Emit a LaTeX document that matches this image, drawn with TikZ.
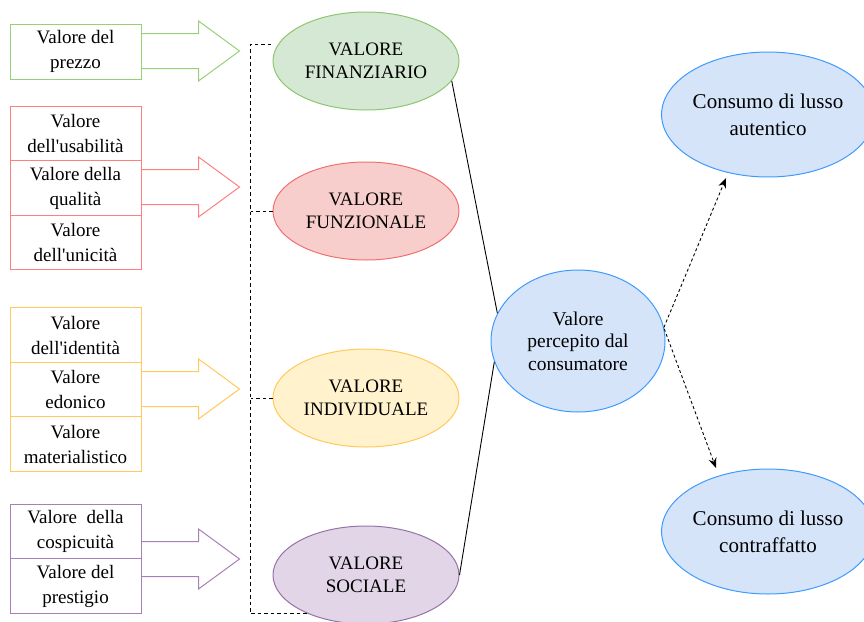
\documentclass[tikz,border=0pt]{standalone}
\usepackage{fontspec}
\setmainfont{Liberation Serif}
\usetikzlibrary{shapes.geometric,arrows.meta}

\definecolor{gfill}{HTML}{D5E8D4}\definecolor{gline}{HTML}{97D077}\definecolor{gedge}{HTML}{8CC66E}
\definecolor{rfill}{HTML}{F8CECC}\definecolor{rline}{HTML}{FF7F7F}\definecolor{redge}{HTML}{F07070}
\definecolor{yfill}{HTML}{FFF2CC}\definecolor{yline}{HTML}{FFC95C}\definecolor{yedge}{HTML}{FFC95C}
\definecolor{pfill}{HTML}{E1D5E7}\definecolor{pline}{HTML}{A680B8}\definecolor{pedge}{HTML}{9673A6}
\definecolor{bfill}{HTML}{D6E4FA}\definecolor{bedge}{HTML}{3D9BFF}

\newcommand{\apo}{\textquotesingle}

\tikzset{
  x=1pt, y=-1pt,
  cell/.style={draw, line width=1pt, fill=white, minimum width=131pt, minimum height=#1,
    inner sep=0pt, align=center, font=\fontsize{19}{25}\selectfont},
  cell/.default=54.5pt,
  valnode/.style={ellipse, draw, line width=1pt, minimum width=186pt, minimum height=98pt,
    inner sep=0pt, align=center, font=\fontsize{19}{23}\selectfont},
  outnode/.style={ellipse, draw=bedge, fill=bfill, line width=1pt, inner sep=0pt, align=center,
    font=\fontsize{21}{27}\selectfont},
  blockarrow/.pic={\draw[line width=1pt, pic actions] (0,-17.5) -- (57,-17.5) -- (57,-30) -- (98,0)
      -- (57,30) -- (57,17.5) -- (0,17.5);},
  tie/.style={line width=0.9pt, dash pattern=on 3.5pt off 3pt},
  link/.style={line width=0.9pt},
  flow/.style={line width=0.9pt, dash pattern=on 3pt off 2.5pt,
    -{Stealth[length=10pt,width=8pt]}}
}

\begin{document}
\begin{tikzpicture}
\useasboundingbox (0,0) rectangle (864,621);

% ---- left: component values ----
\node[cell=55pt, draw=gline] (prezzo) at (75.5,51.5) {Valore del\\prezzo};

\node[cell, draw=rline] (usab) at (75.5,133.5) {Valore\\dell\apo usabilità};
\node[cell, draw=rline] (qual) at (75.5,188) {Valore della\\qualità};
\node[cell, draw=rline] (unic) at (75.5,242.5) {Valore\\dell\apo unicità};

\node[cell, draw=yline] (ident) at (75.5,335) {Valore\\dell\apo identità};
\node[cell, draw=yline] (edon) at (75.5,389.5) {Valore\\edonico};
\node[cell, draw=yline] (mater) at (75.5,444) {Valore\\materialistico};

\node[cell, draw=pline] (cosp) at (75.5,531.5) {Valore~ della\\cospicuità};
\node[cell, draw=pline] (prest) at (75.5,586) {Valore del\\prestigio};

% ---- block arrows ----
\pic[draw=gline] at (prezzo.east |- 0,51) {blockarrow};
\pic[draw=rline] at (qual.east |- 0,187) {blockarrow};
\pic[draw=yline] at (edon.east |- 0,389) {blockarrow};
\pic[draw=pline] at (prest.east |- 0,559) {blockarrow};

% ---- value dimensions ----
\node[valnode, draw=gedge, fill=gfill] (fin) at (366,61) {VALORE\\FINANZIARIO};
\node[valnode, draw=redge, fill=rfill] (fun) at (366,211) {VALORE\\FUNZIONALE};
\node[valnode, draw=yedge, fill=yfill] (ind) at (366,398) {VALORE\\INDIVIDUALE};
\node[valnode, draw=pedge, fill=pfill] (soc) at (366,575) {VALORE\\SOCIALE};

% dashed bracket joining the four dimensions
\coordinate (busTop) at (250,44);
\draw[tie] (271,44) -- (busTop) |- (soc.213.7);
\draw[tie] (fun.west) -- ++(-22,0);
\draw[tie] (ind.west) -- ++(-22,0);

% ---- perceived value ----
\node[outnode, minimum width=174pt, minimum height=142pt, font=\fontsize{19.5}{22.5}\selectfont]
  (perc) at (578,341) {Valore\\percepito dal\\consumatore};

\draw[link] (fin.-13) -- (perc.161);
\draw[link] (soc.east) -- (perc.194);

% ---- outcomes ----
\node[outnode, minimum width=206pt, minimum height=125pt] (aut) at (768,114.5)
  {Consumo di lusso\\autentico};
\node[outnode, minimum width=206pt, minimum height=125pt] (con) at (768,531.5)
  {Consumo di lusso\\contraffatto};

\coordinate (autTip) at (726,178);
\coordinate (conTip) at (716,468);
\draw[flow] (perc.9) -- (autTip);
\draw[flow] (perc.8) -- (conTip);
\end{tikzpicture}
\end{document}
